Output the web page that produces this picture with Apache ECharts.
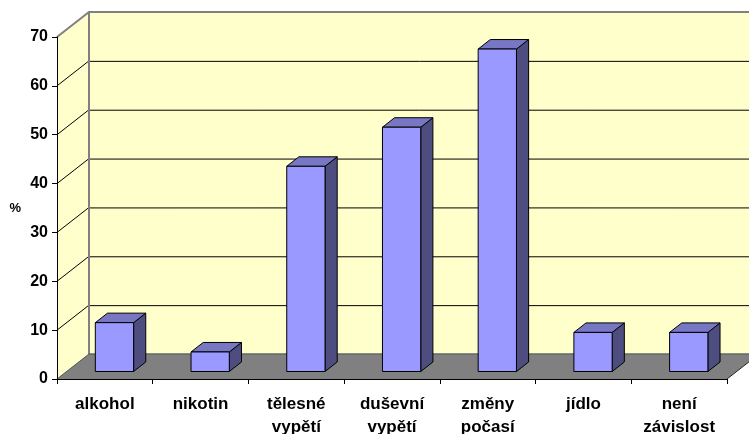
<!DOCTYPE html>
<html>
<head>
<meta charset="utf-8">
<script src="https://cdn.jsdelivr.net/npm/echarts@6/dist/echarts.min.js"></script>
<style>
html,body{margin:0;padding:0;background:#fff;}
#c{width:749px;height:434px;}
</style>
</head>
<body>
<div id="c"></div>
<script>
// ---- data ----
const categories = ['alkohol', 'nikotin', 'tělesné\nvypětí', 'duševní\nvypětí', 'změny\npočasí', 'jídlo', 'není\nzávislost'];
const values = [10, 4, 42, 50, 66, 8, 8];
const yTicks = [0, 10, 20, 30, 40, 50, 60, 70];
const yAxisTitle = '%';

// ---- style / layout ----
const DX = 32, DY = 25;          // depth offset of back wall
const F1 = 0.30, F2 = 0.68;      // bar depth span (fraction of floor depth)
const BAR_W = 0.4;               // fraction of category band
const FONT = '"Liberation Sans", Arial, sans-serif';

const chart = echarts.init(document.getElementById('c'), null, {renderer: 'canvas'});

function renderWalls(params, api) {
  const cs = params.coordSys;
  const x0 = cs.x, x1 = cs.x + cs.width;
  const yb = api.coord([0, yTicks[0]])[1];
  const yt = api.coord([0, yTicks[yTicks.length - 1]])[1];
  const right = x1 + DX + 40;
  const children = [];
  // back wall
  children.push({type: 'rect', shape: {x: x0 + DX, y: yt - DY, width: right - x0 - DX, height: yb - yt},
    style: {fill: '#FFFFCC', stroke: null}});
  // left side wall
  children.push({type: 'polygon', shape: {points: [[x0, yb], [x0 + DX, yb - DY], [x0 + DX, yt - DY], [x0, yt]]},
    style: {fill: '#FFFFCC', stroke: null}});
  // floor
  children.push({type: 'polygon', shape: {points: [[x0, yb], [x1, yb], [x1 + DX, yb - DY], [x0 + DX, yb - DY]]},
    style: {fill: '#808080', stroke: null}});
  // grid lines
  for (let k = 1; k < yTicks.length - 1; k++) {
    const y = api.coord([0, yTicks[k]])[1];
    children.push({type: 'line', shape: {x1: x0 + DX, y1: y - DY + 0.5, x2: right, y2: y - DY + 0.5},
      style: {stroke: '#000', lineWidth: 1}});
    children.push({type: 'line', shape: {x1: x0, y1: y, x2: x0 + DX, y2: y - DY},
      style: {stroke: '#000', lineWidth: 1}});
  }
  // wall borders (gray)
  children.push({type: 'polyline', shape: {points: [[x0, yt], [x0 + DX, yt - DY], [right, yt - DY]]},
    style: {stroke: '#808080', lineWidth: 2, fill: null}});
  children.push({type: 'line', shape: {x1: x0 + DX, y1: yt - DY, x2: x0 + DX, y2: yb - DY},
    style: {stroke: '#808080', lineWidth: 2}});
  children.push({type: 'line', shape: {x1: x0 + DX, y1: yb - DY, x2: right, y2: yb - DY},
    style: {stroke: '#666666', lineWidth: 1.5}});
  children.push({type: 'line', shape: {x1: x0, y1: yb, x2: x0 + DX, y2: yb - DY},
    style: {stroke: '#555555', lineWidth: 1}});
  // floor right edge
  children.push({type: 'line', shape: {x1: x1, y1: yb, x2: x1 + DX, y2: yb - DY},
    style: {stroke: '#222', lineWidth: 1}});
  return {type: 'group', children: children};
}

function renderBar(params, api) {
  const i = api.value(0), v = api.value(1);
  const p0 = api.coord([i, 0]);
  const p1 = api.coord([i, v]);
  const bw = api.size([1, 0])[0] * BAR_W;
  const ox1 = DX * F1, oy1 = -DY * F1, ox2 = DX * F2, oy2 = -DY * F2;
  const L1 = p0[0] - bw / 2 + ox1, R1 = p0[0] + bw / 2 + ox1;
  const T1 = p1[1] + oy1, B1 = p0[1] + oy1;
  const L2 = p0[0] - bw / 2 + ox2, R2 = p0[0] + bw / 2 + ox2;
  const T2 = p1[1] + oy2, B2 = p0[1] + oy2;
  const edge = {stroke: '#000', lineWidth: 1, lineJoin: 'round'};
  return {type: 'group', children: [
    {type: 'polygon', shape: {points: [[R1, T1], [R2, T2], [R2, B2], [R1, B1]]},
      style: Object.assign({fill: '#4D4D80'}, edge)},
    {type: 'polygon', shape: {points: [[L1, T1], [R1, T1], [R2, T2], [L2, T2]]},
      style: Object.assign({fill: '#7777C4'}, edge)},
    {type: 'rect', shape: {x: L1, y: T1, width: R1 - L1, height: B1 - T1},
      style: Object.assign({fill: '#9999FF'}, edge)}
  ]};
}

const option = {
  backgroundColor: '#ffffff',
  animation: false,
  grid: {left: 57, right: 22, top: 37, bottom: 55, containLabel: false, outerBoundsMode: 'none'},
  xAxis: {
    type: 'category', data: categories, boundaryGap: true, z: 10,
    axisLine: {show: true, lineStyle: {color: '#000', width: 1}},
    axisTick: {show: true, length: 5, lineStyle: {color: '#000'}, alignWithLabel: false},
    axisLabel: {interval: 0, color: '#000', fontFamily: FONT, fontWeight: 'bold', fontSize: 17,
      lineHeight: 23, margin: 14},
    splitLine: {show: false}
  },
  yAxis: {
    type: 'value', min: 0, max: 70, interval: 10, z: 10,
    name: yAxisTitle, nameLocation: 'middle', nameGap: 36, nameRotate: 0,
    nameTextStyle: {color: '#000', fontFamily: FONT, fontWeight: 'bold', fontSize: 13},
    axisLine: {show: true, lineStyle: {color: '#000', width: 1}},
    axisTick: {show: true, length: 5, lineStyle: {color: '#000'}},
    axisLabel: {color: '#000', fontFamily: FONT, fontWeight: 'bold', fontSize: 16, margin: 9,
      customValues: yTicks},
    splitLine: {show: false}
  },
  series: [
    {type: 'custom', name: 'walls', z: 1, silent: true, renderItem: renderWalls, data: [[0, 0]], clip: false},
    {type: 'custom', name: 'bars', z: 3, renderItem: renderBar, clip: false,
      data: values.map((v, i) => [i, v])}
  ]
};
chart.setOption(option);
</script>
</body>
</html>
